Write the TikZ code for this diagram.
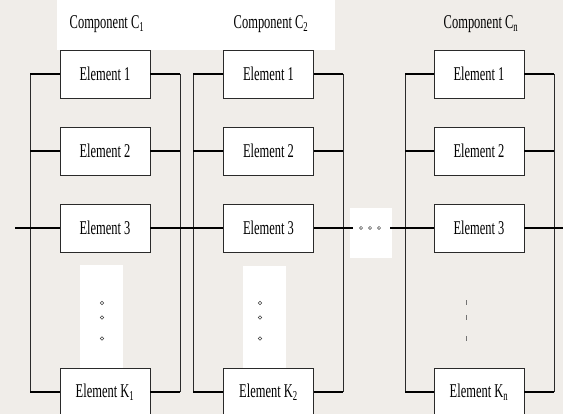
\documentclass[tikz,border=0pt]{standalone}
\usepackage{fontspec}
\newfontfamily\condfont[FakeStretch=0.64]{Liberation Serif}
\definecolor{bgtone}{HTML}{F0EDE9}
\definecolor{railc}{HTML}{2A2A2A}
\begin{document}
\begin{tikzpicture}[x=1pt,y=-1pt,
  elem/.style={draw=railc,line width=0.8pt,fill=white,minimum width=90pt,minimum height=48pt,inner sep=0pt,font=\condfont\fontsize{19.5}{20}\selectfont},
  ttl/.style={inner sep=0pt,font=\condfont\fontsize{19.5}{20}\selectfont},
  rail/.style={draw=railc,line width=0.8pt},
  stub/.style={draw=black,line width=1.6pt},
  dotc/.style={draw=black!75,line width=0.5pt},
  dashc/.style={draw=black!55,line width=0.6pt}]
\useasboundingbox (0,0) rectangle (563,414);
% background tone and white patches
\fill[bgtone] (0,0) rectangle (563,414);
\fill[white] (57,0) rectangle (335,50);
\fill[white] (80,265) rectangle (123,369);
\fill[white] (243,266) rectangle (286,369);
\fill[white] (350,208) rectangle (392,258);
% titles
\node[ttl] (t1) at (107,24) {Component C\textsubscript{1}};
\node[ttl] (t2) at (271,24) {Component C\textsubscript{2}};
\node[ttl] (tn) at (481,24) {Component C\textsubscript{n}};
% rail coordinates
\coordinate (L1) at (30,0);  \coordinate (R1) at (180,0);
\coordinate (L2) at (193,0); \coordinate (R2) at (343,0);
\coordinate (Ln) at (405,0); \coordinate (Rn) at (554,0);
% elements
\foreach \c/\x/\s in {a/105/1,b/268.5/2,c/479/n}{
  \node[elem] (\c1) at (\x,74) {Element 1};
  \node[elem] (\c2) at (\x,151) {Element 2};
  \node[elem] (\c3) at (\x,228) {Element 3};
  \node[elem] (\c K) at (\x,392) {Element K\textsubscript{\s}};
}
% rails
\foreach \c/\l/\r in {a/L1/R1,b/L2/R2,c/Ln/Rn}{
  \draw[rail] (\c1.west -| \l) -- (\c K.west -| \l);
  \draw[rail] (\c1.east -| \r) -- (\c K.east -| \r);
  \foreach \k in {1,2,K}{
    \draw[stub] (\c\k.west) -- (\c\k.west -| \l);
    \draw[stub] (\c\k.east) -- (\c\k.east -| \r);
  }
}
% through line
\coordinate (st) at (15,228);
\coordinate (en) at (563,228);
\coordinate (hl) at (353,228);
\coordinate (hr) at (390,228);
\draw[stub] (st) -- (a3.west);
\draw[stub] (a3.east) -- (b3.west);
\draw[stub] (b3.east) -- (hl);
\draw[stub] (hr) -- (c3.west);
\draw[stub] (c3.east) -- (en);
% horizontal dots
\foreach \x in {361,370,379} \draw[dotc] (\x,228) circle (1.6);
% vertical dots
\foreach \y in {303,317.5,338.5}{
  \draw[dotc] (102,\y) circle (1.7);
  \draw[dotc] (260,\y) circle (1.7);
  \draw[dashc] (466,\y-2.5) -- (466,\y+2.5);
}
\end{tikzpicture}
\end{document}
